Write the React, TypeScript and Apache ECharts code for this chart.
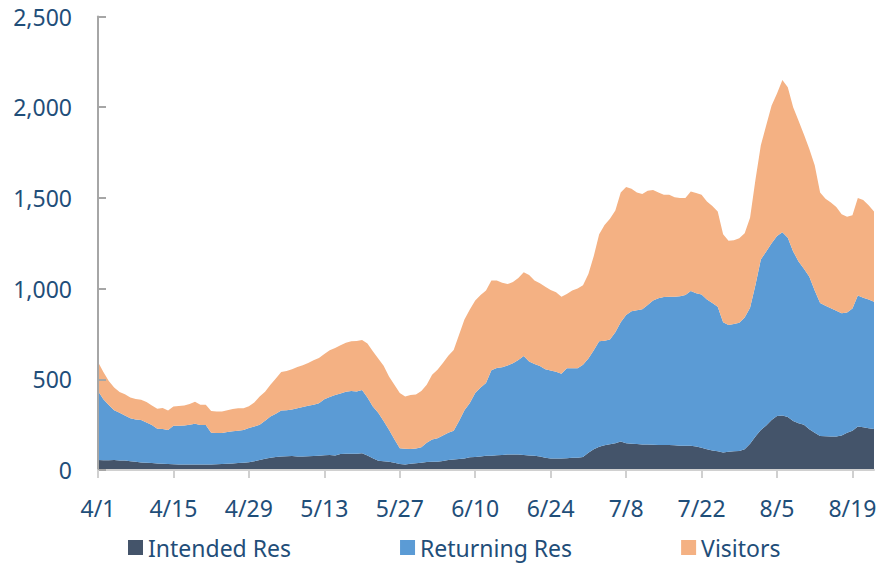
import React, { useEffect, useRef } from "react";
import * as echarts from "echarts";

// Month / day-count pairs used to build the daily category labels (4/1 .. 8/23)
const months: [number, number][] = [
  [4, 30],
  [5, 31],
  [6, 30],
  [7, 31],
  [8, 23],
];
const categories: string[] = [];
months.forEach(([m, n]) => {
  for (let d = 1; d <= n; d++) categories.push(`${m}/${d}`);
});

const seriesNames = ["Intended Res", "Returning Res", "Visitors"];

const intendedRes = [
  55, 54, 54, 55, 53, 52, 48, 45, 42, 40, 38, 36, 35, 33, 32, 31, 31, 31, 30, 30,
  31, 31, 32, 33, 35, 36, 38, 40, 43, 48, 55, 62, 68, 71, 74, 76, 77, 75, 74, 76,
  77, 79, 81, 83, 80, 88, 90, 90, 90, 92, 80, 65, 51, 48, 46, 40, 33, 31, 34, 37,
  40, 44, 46, 46, 50, 55, 58, 60, 63, 70, 72, 75, 78, 79, 81, 83, 85, 86, 85, 83,
  80, 78, 74, 68, 64, 64, 64, 65, 67, 68, 72, 95, 115, 128, 136, 142, 148, 157, 148, 145,
  143, 141, 140, 139, 138, 138, 138, 137, 133, 133, 134, 130, 122, 115, 108, 104, 96, 100, 104, 105,
  115, 145, 185, 220, 245, 275, 298, 300, 292, 270, 258, 250, 225, 205, 188, 186, 185, 184, 190, 205,
  216, 240, 236, 230, 226,
];

const returningRes = [
  380, 336, 304, 275, 262, 248, 237, 233, 234, 222, 210, 192, 191, 187, 212, 213, 215, 218, 225, 218,
  217, 175, 172, 171, 175, 177, 178, 180, 188, 192, 195, 210, 227, 239, 254, 254, 257, 265, 273, 278,
  283, 289, 309, 319, 334, 334, 342, 346, 343, 349, 320, 285, 264, 222, 176, 130, 87, 86, 82, 81,
  85, 106, 122, 129, 140, 151, 158, 210, 267, 300, 353, 380, 402, 471, 481, 483, 491, 502, 521, 545,
  518, 507, 499, 487, 484, 478, 466, 496, 494, 493, 508, 520, 545, 582, 577, 578, 612, 658, 707, 730,
  737, 745, 770, 796, 809, 816, 817, 818, 825, 832, 853, 845, 846, 825, 812, 796, 719, 700, 701, 707,
  725, 750, 835, 940, 960, 975, 992, 1010, 988, 935, 892, 860, 840, 785, 732, 719, 707, 694, 674, 663,
  674, 722, 714, 710, 702,
];

const visitors = [
  160, 150, 132, 125, 115, 118, 115, 114, 111, 113, 107, 110, 116, 108, 106, 109, 110, 115, 121, 112,
  112, 119, 118, 118, 120, 123, 124, 120, 121, 132, 155, 160, 175, 195, 212, 216, 222, 228, 231, 236,
  245, 249, 250, 258, 259, 266, 270, 274, 278, 275, 298, 305, 300, 305, 293, 300, 305, 288, 298, 298,
  310, 320, 357, 377, 400, 424, 446, 475, 500, 515, 510, 510, 510, 495, 483, 466, 449, 448, 452, 462,
  477, 460, 457, 455, 444, 438, 425, 409, 429, 439, 438, 465, 520, 590, 637, 665, 670, 715, 705, 675,
  650, 636, 630, 609, 583, 564, 563, 548, 542, 535, 548, 552, 550, 540, 535, 525, 485, 464, 461, 466,
  465, 495, 580, 630, 695, 760, 785, 840, 830, 795, 775, 740, 705, 690, 610, 590, 583, 572, 546, 528,
  515, 538, 538, 520, 497,
];

const colors = ["#44546a", "#5b9bd5", "#f4b183"];
const textColor = "#1f4e79";
const fontFamily = "'Noto Sans', 'Open Sans', sans-serif";

export default function App() {
  const ref = useRef<HTMLDivElement>(null);

  useEffect(() => {
    if (!ref.current) return;
    const chart = echarts.init(ref.current, undefined, { renderer: "svg" });
    const data = [intendedRes, returningRes, visitors];
    chart.setOption({
      animation: false,
      color: colors,
      textStyle: { fontFamily },
      grid: { left: 98, top: 16.5, width: 776, height: 453.5 },
      legend: {
        data: seriesNames,
        left: 128,
        top: 536,
        padding: 0,
        icon: "rect",
        itemWidth: 15,
        itemHeight: 15,
        itemGap: 109,
        textStyle: { color: textColor, fontSize: 23, fontFamily },
      },
      xAxis: {
        type: "category",
        data: categories,
        boundaryGap: false,
        z: 5,
        axisLine: { lineStyle: { color: "#d0d0d0", width: 2 } },
        axisTick: {
          show: true,
          interval: 13,
          length: 8,
          lineStyle: { color: "#d0d0d0", width: 2 },
        },
        axisLabel: {
          interval: 13,
          color: textColor,
          fontSize: 23,
          fontFamily,
          margin: 26,
        },
      },
      yAxis: {
        type: "value",
        min: 0,
        max: 2500,
        interval: 500,
        z: 5,
        axisLine: { show: true, lineStyle: { color: "#a6a6a6", width: 2 } },
        axisTick: {
          show: true,
          inside: true,
          length: 8,
          lineStyle: { color: "#a6a6a6", width: 2 },
        },
        splitLine: { show: false },
        axisLabel: {
          color: textColor,
          fontSize: 23,
          fontFamily,
          margin: 26,
          formatter: (v: number) => v.toLocaleString("en-US"),
        },
      },
      series: seriesNames.map((name, i) => ({
        name,
        type: "line",
        stack: "total",
        data: data[i],
        symbol: "none",
        showSymbol: false,
        lineStyle: { width: 0 },
        areaStyle: { color: colors[i], opacity: 1 },
        itemStyle: { color: colors[i] },
      })),
    });
    return () => chart.dispose();
  }, []);

  return (
    <div
      ref={ref}
      style={{ position: "absolute", left: 0, top: 0, width: 880, height: 563 }}
    />
  );
}
